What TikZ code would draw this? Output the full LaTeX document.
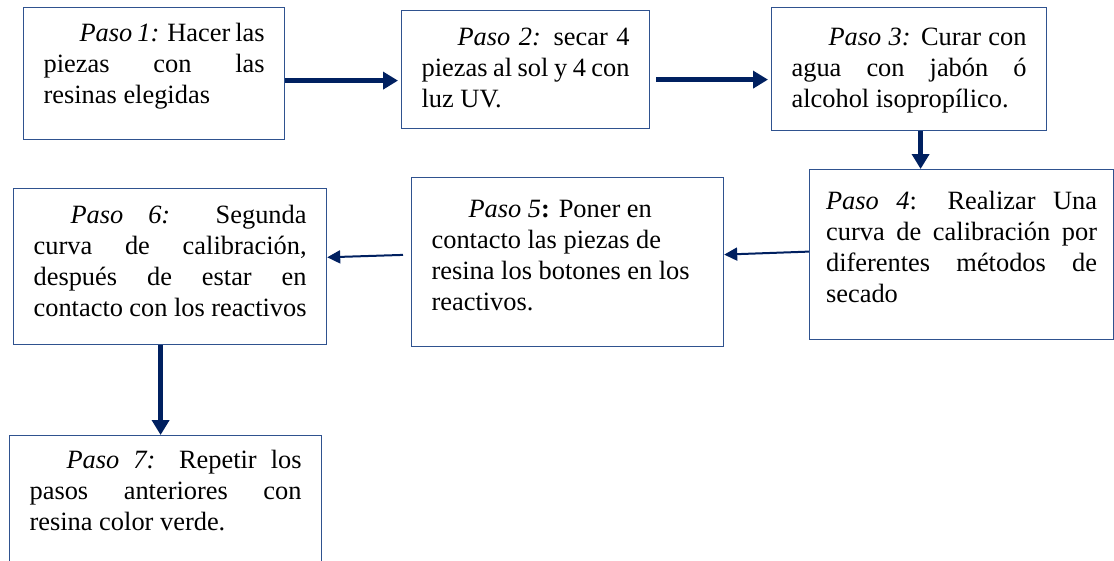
\documentclass[tikz,border=0pt]{standalone}
\usepackage{fontspec}
\setmainfont{Liberation Serif}
\usetikzlibrary{arrows.meta,calc}
\definecolor{bordeazul}{RGB}{47,82,143}
\definecolor{flechaazul}{RGB}{0,32,96}
\def\pasotexto[#1:#2:#3]#4{\parbox[c][#1pt][t]{#2pt}{\vspace*{#3pt}\strut#4}}

\begin{document}
\begin{tikzpicture}[x=1pt,y=-1pt,
	caja/.style={draw=bordeazul, line width=1.2pt, anchor=north west, inner xsep=20pt, inner ysep=0pt, font=\fontsize{26.4}{31}\selectfont},
	gruesa/.style={draw=flechaazul, fill=flechaazul, line width=4.5pt, -{Triangle[length=15pt,width=17pt]}},
	fina/.style={draw=flechaazul, fill=flechaazul, line width=2pt, -{Triangle[length=13pt,width=13pt]}}]
			%%%%% START %%%%%
			
			\useasboundingbox (0,0) rectangle (1114,560);
			
			\node[caja] (p1) at (23,7) {\pasotexto[132:221:12.3]{\hspace*{36pt}\textit{Paso 1:} Hacer las\linebreak piezas con las\linebreak resinas elegidas}};
			\node[caja] (p2) at (401,10) {\pasotexto[118:208:13.3]{\hspace*{36pt}\textit{Paso 2:} secar 4\linebreak piezas al sol y 4 con\linebreak luz UV.}};
			\node[caja] (p3) at (771,7) {\pasotexto[123:235:16.3]{\hspace*{37pt}\textit{Paso 3:} Curar con\linebreak agua con jabón ó\linebreak alcohol isopropílico.}};
			
			\node[caja, inner xsep=16.5pt] (p4) at (809,169) {\pasotexto[170:271:18.3]{\textit{Paso 4}: Realizar Una\linebreak curva de calibración por\linebreak diferentes métodos de\linebreak secado}};
			\node[caja] (p5) at (411,177) {\pasotexto[169:272:18.3]{\raggedright\hspace*{37pt}\textit{Paso 5}\textbf{:} Poner en\\ contacto las piezas de\\ resina los botones en los\\ reactivos.}};
			\node[caja] (p6) at (13,188) {\pasotexto[156:273:13.3]{\hspace*{37pt}\textit{Paso 6:} Segunda\linebreak curva de calibración,\linebreak después de estar en\linebreak contacto con los reactivos}};
			
			\node[caja] (p7) at (9,435) {\pasotexto[130:272:11.3]{\hspace*{37pt}\textit{Paso 7:} Repetir los\linebreak pasos anteriores con\linebreak resina color verde.}};
			
			\draw[gruesa, shorten >=3pt] ([yshift=-7pt]p1.east) -- ([yshift=-7pt]p1.east -| p2.west);
			\draw[gruesa, shorten <=6pt, shorten >=3pt] ([yshift=-10pt]p2.east) -- ([yshift=-10pt]p2.east -| p3.west);
			\draw[gruesa] ([xshift=11.5pt]p3.south) -- ([xshift=11.5pt]p3.south |- p4.north);
			
			\draw[fina] ([yshift=3pt]p4.west) -- ([yshift=7.5pt]p5.east);
			\draw[fina] ([shift={(-8pt,7.2pt)}]p5.west) -- ([yshift=9.3pt]p6.east);
			
			\draw[gruesa] ([xshift=-9.5pt]p6.south) -- ([xshift=-9.5pt]p6.south |- p7.north);
			
			%%%%% END %%%%%
\end{tikzpicture}
\end{document}
